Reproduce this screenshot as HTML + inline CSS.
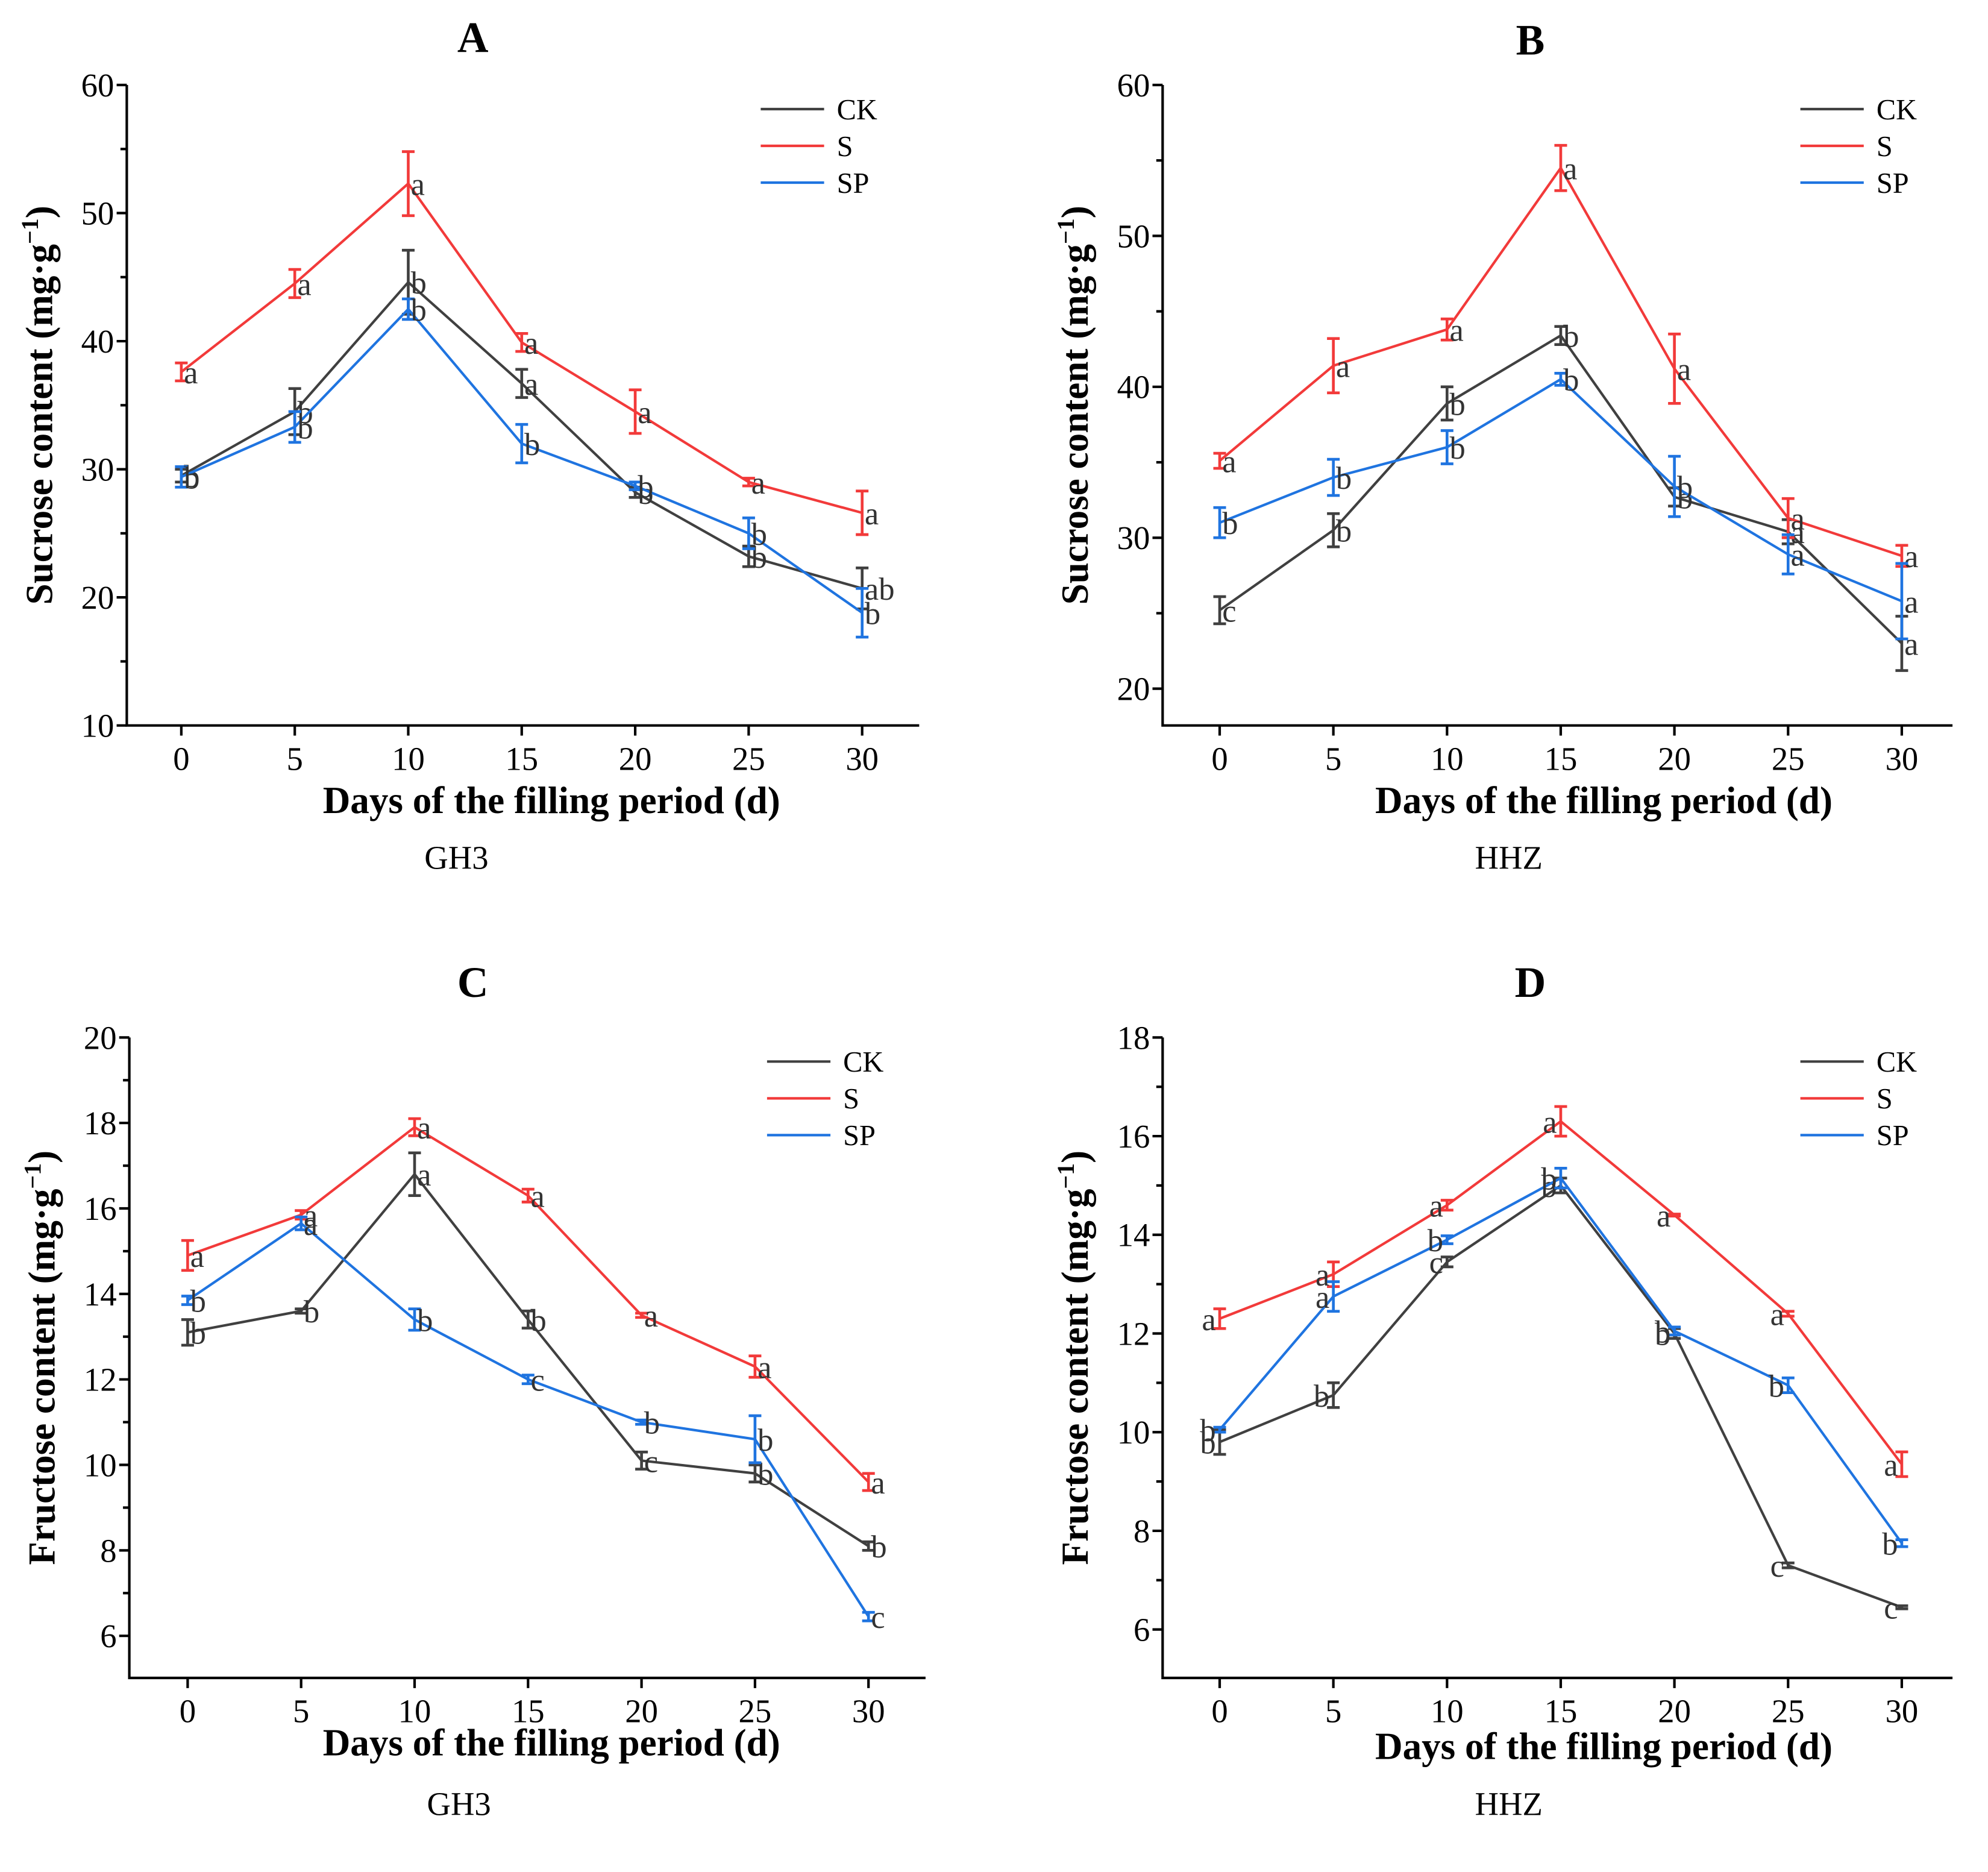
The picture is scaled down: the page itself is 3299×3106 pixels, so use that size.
<!DOCTYPE html>
<html><head><meta charset="utf-8"><style>
html,body{margin:0;padding:0;background:#fff}
svg{display:block}
text{font-family:"Liberation Serif",serif}
</style></head><body>
<svg id="fig" width="3299" height="3106" viewBox="0 0 1568 1476" preserveAspectRatio="none" xmlns="http://www.w3.org/2000/svg"></svg>
<script>
const days = [0,5,10,15,20,25,30];
const seriesNames = ["CK","S","SP"];
// Panel A
const aCK = [29.5,34.5,44.6,36.7,28.2,23.2,20.7];
const aCKerr = [0.5,1.8,2.5,1.1,0.4,0.8,1.6];
const aCKlab = ["b","b","b","a","b","b","ab"];
const aS = [37.6,44.5,52.3,39.9,34.5,29.0,26.6];
const aSerr = [0.7,1.1,2.5,0.7,1.7,0.3,1.7];
const aSlab = ["a","a","a","a","a","a","a"];
const aSP = [29.4,33.3,42.5,32.0,28.7,25.0,18.8];
const aSPerr = [0.8,1.2,0.8,1.5,0.3,1.2,1.9];
const aSPlab = ["b","b","b","b","b","b","b"];
const aTicks = [10,20,30,40,50,60];
// Panel B
const bCK = [25.2,30.5,38.9,43.4,32.7,30.4,23.0];
const bCKerr = [0.9,1.1,1.1,0.6,0.6,0.8,1.8];
const bCKlab = ["c","b","b","b","b","a","a"];
const bS = [35.1,41.4,43.8,54.5,41.2,31.3,28.8];
const bSerr = [0.5,1.8,0.7,1.5,2.3,1.3,0.7];
const bSlab = ["a","a","a","a","a","a","a"];
const bSP = [31.0,34.0,36.0,40.5,33.4,28.9,25.8];
const bSPerr = [1.0,1.2,1.1,0.4,2.0,1.3,2.5];
const bSPlab = ["b","b","b","b","b","a","a"];
const bTicks = [20,30,40,50,60];
// Panel C
const cCK = [13.1,13.6,16.8,13.4,10.1,9.8,8.1];
const cCKerr = [0.3,0.05,0.5,0.2,0.2,0.2,0.1];
const cCKlab = ["b","b","a","b","c","b","b"];
const cS = [14.9,15.85,17.9,16.3,13.5,12.3,9.6];
const cSerr = [0.35,0.1,0.2,0.15,0.05,0.25,0.2];
const cSlab = ["a","a","a","a","a","a","a"];
const cSP = [13.85,15.65,13.4,12.0,11.0,10.6,6.45];
const cSPerr = [0.1,0.15,0.25,0.1,0.05,0.55,0.1];
const cSPlab = ["b","a","b","c","b","b","c"];
const cTicks = [6,8,10,12,14,16,18,20];
// Panel D
const dCK = [9.8,10.75,13.45,15.0,12.0,7.3,6.45];
const dCKerr = [0.25,0.25,0.1,0.15,0.1,0.05,0.03];
const dCKlab = ["b","b","c","b","b","c","c"];
const dS = [12.3,13.2,14.6,16.3,14.4,12.4,9.35];
const dSerr = [0.2,0.25,0.1,0.3,0.02,0.05,0.25];
const dSlab = ["a","a","a","a","a","a","a"];
const dSP = [10.05,12.75,13.9,15.15,12.05,10.95,7.75];
const dSPerr = [0.05,0.3,0.08,0.2,0.08,0.15,0.07];
const dSPlab = ["b","a","b","b","b","b","b"];
const dTicks = [6,8,10,12,14,16,18];

const colors = {CK:"#404040", S:"#f23a3a", SP:"#1f74e0"};
const svg = document.getElementById('fig');
const NS = "http://www.w3.org/2000/svg";
function mk(tag, attrs, parent){
  const e = document.createElementNS(NS, tag);
  for (const k in attrs) e.setAttribute(k, attrs[k]);
  (parent||svg).appendChild(e);
  return e;
}
function txt(s, attrs, parent){ const t = mk('text', attrs, parent); t.textContent = s; return t; }

function panel(cfg){
  const g = mk('g', {});
  
  
  const {ax, top, bot, right, x0, x30, ymin, ymax} = cfg;
  const xs = d => x0 + (x30 - x0) * d / 30;
  const ys = v => bot - (v - ymin) / (ymax - ymin) * (bot - top);
  const t = txt(cfg.id, {x:cfg.titleX, y:cfg.titleY, 'font-size':34, 'font-weight':'bold', 'text-anchor':'middle'}, g);
  
  
  const axes = mk('path', {d:`M${ax},${top} L${ax},${bot} L${right},${bot}`, stroke:'#000', 'stroke-width':2, fill:'none'}, g);
  
  
  const ticks = cfg.yTicks;
  const step = ticks[1] - ticks[0];
  for (let i = 0; i < ticks.length; i++) {
    const y = ys(ticks[i]);
    mk('line', {x1:ax-8, x2:ax, y1:y, y2:y, stroke:'#000', 'stroke-width':2}, g);
    const tl = txt(String(ticks[i]), {x:ax-10, y:y+9, 'font-size':26, 'text-anchor':'end'}, g);
    
    
    const m = ticks[i] + step/2;
    if (m <= ymax) { const ym = ys(m); mk('line', {x1:ax-5, x2:ax, y1:ym, y2:ym, stroke:'#000', 'stroke-width':2}, g); }
    const mb = ticks[i] - step/2;
    if (i === 0 && mb >= ymin) { const ym = ys(mb); mk('line', {x1:ax-5, x2:ax, y1:ym, y2:ym, stroke:'#000', 'stroke-width':2}, g); }
  }
  for (const d of days) {
    const x = xs(d);
    mk('line', {x1:x, x2:x, y1:bot, y2:bot+8, stroke:'#000', 'stroke-width':2}, g);
    const tl = txt(String(d), {x:x, y:bot+35, 'font-size':26, 'text-anchor':'middle'}, g);
    
    
  }
  const xt = txt('Days of the filling period (d)', {x:cfg.xlabX, y:cfg.xlabY, 'font-size':30, 'font-weight':'bold', 'text-anchor':'middle'}, g);
  
  
  const yc = (top+bot)/2;
  const yt = txt('', {x:0, y:0, 'font-size':30, 'font-weight':'bold', 'text-anchor':'middle', transform:`translate(${ax-59},${yc}) rotate(-90)`}, g);
  
  
  yt.appendChild(document.createTextNode(cfg.ylab + ' (mg·g'));
  const sup = mk('tspan', {dy:-11, 'font-size':19}, yt); sup.textContent = '−1';
  const cl = mk('tspan', {dy:11}, yt); cl.textContent = ')';
  const cap = txt(cfg.caption, {x:cfg.capX, y:cfg.capY, 'font-size':26, 'text-anchor':'middle'}, g);
  
  
  seriesNames.forEach((n, i) => {
    const ly = cfg.legY + i*29;
    const ll = mk('line', {x1:cfg.legX, x2:cfg.legX+50, y1:ly, y2:ly, stroke:colors[n], 'stroke-width':2}, g);
    
    
    const lt = txt(n, {x:cfg.legX+60, y:ly+8, 'font-size':23}, g);
    
    
  });
  cfg.series.forEach(s => {
    const sg = mk('g', {}, g);
    
    
    const c = colors[s.name];
    const pts = days.map((d,i) => xs(d) + ',' + ys(s.vals[i])).join(' ');
    const pl = mk('polyline', {points:pts, fill:'none', stroke:c, 'stroke-width':2}, sg);
    
    
    days.forEach((d,i) => {
      const x = xs(d), y1 = ys(s.vals[i]+s.err[i]), y2 = ys(s.vals[i]-s.err[i]);
      const eb = mk('path', {d:`M${x-5},${y1} L${x+5},${y1} M${x},${y1} L${x},${y2} M${x-5},${y2} L${x+5},${y2}`, stroke:c, 'stroke-width':2.2, fill:'none'}, sg);
      
      
      const lx = cfg.labLeft ? x - 3 : x + 2;
      const lb = txt(s.labs[i], {x:lx, y:ys(s.vals[i]) + 9, 'font-size':25, fill:'#333', 'text-anchor':cfg.labLeft?'end':'start'}, sg);
      
      
    });
  });
}

panel({id:'A', ax:100, top:67, bot:572, right:725, x0:143, x30:680, ymin:10, ymax:60, yTicks:aTicks, titleX:373, titleY:41, xlabX:435, xlabY:641, ylab:'Sucrose content', caption:'GH3', capX:360, capY:685, legX:600, legY:86,
  series:[{name:'CK', vals:aCK, err:aCKerr, labs:aCKlab},{name:'S', vals:aS, err:aSerr, labs:aSlab},{name:'SP', vals:aSP, err:aSPerr, labs:aSPlab}]});
panel({id:'B', ax:917, top:67, bot:572, right:1540, x0:962, x30:1500, ymin:60-505/11.9, ymax:60, yTicks:bTicks, titleX:1207, titleY:43, xlabX:1265, xlabY:641, ylab:'Sucrose content', caption:'HHZ', capX:1190, capY:685, legX:1420, legY:86,
  series:[{name:'CK', vals:bCK, err:bCKerr, labs:bCKlab},{name:'S', vals:bS, err:bSerr, labs:bSlab},{name:'SP', vals:bSP, err:bSPerr, labs:bSPlab}]});
panel({id:'C', ax:102, top:818, bot:1323, right:730, x0:148, x30:685, ymin:20-505/33.7, ymax:20, yTicks:cTicks, titleX:373, titleY:786, xlabX:435, xlabY:1384, ylab:'Fructose content', caption:'GH3', capX:362, capY:1431, legX:605, legY:837,
  series:[{name:'CK', vals:cCK, err:cCKerr, labs:cCKlab},{name:'S', vals:cS, err:cSerr, labs:cSlab},{name:'SP', vals:cSP, err:cSPerr, labs:cSPlab}]});
panel({id:'D', ax:917, top:818, bot:1323, right:1540, x0:962, x30:1500, ymin:18-505/38.9, ymax:18, yTicks:dTicks, titleX:1207, titleY:786, xlabX:1265, xlabY:1387, ylab:'Fructose content', caption:'HHZ', capX:1190, capY:1431, legX:1420, legY:837, labLeft:true,
  series:[{name:'CK', vals:dCK, err:dCKerr, labs:dCKlab},{name:'S', vals:dS, err:dSerr, labs:dSlab},{name:'SP', vals:dSP, err:dSPerr, labs:dSPlab}]});
</script>
</body></html>
